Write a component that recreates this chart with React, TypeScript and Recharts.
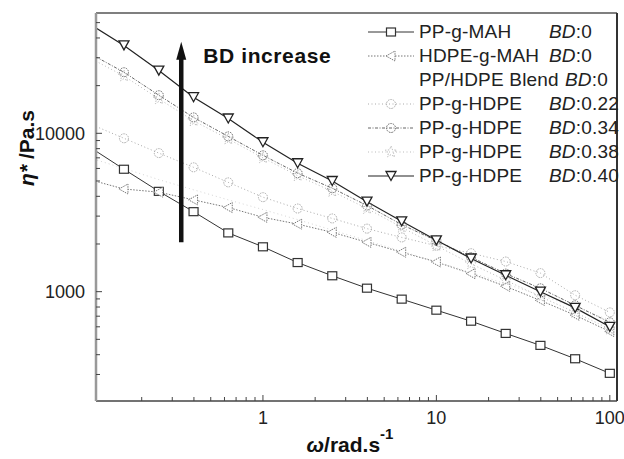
import React from 'react'
import {
  LineChart,
  Line,
  XAxis,
  YAxis,
  Legend,
  ReferenceLine,
  ReferenceDot,
} from 'recharts'

// angular frequency, rad/s
const freq = [0.1, 0.158, 0.251, 0.398, 0.631, 1, 1.585, 2.51, 3.98, 6.31, 10, 15.85, 25.1, 39.8, 63.1, 100]

// complex viscosity, Pa.s
const ppMah = [8200, 5930, 4300, 3200, 2350, 1920, 1527, 1260, 1052, 897, 764, 651, 545, 458, 377, 305]
const hdpeMah = [5100, 4450, 4250, 3800, 3400, 2950, 2670, 2370, 2050, 1775, 1540, 1300, 1080, 880, 710, 560]
const blend = [7000, 6000, 5100, 4400, 3800, 3300, 2850, 2450, 2100, 1800, 1550, 1320, 1120, 950, 800, 660]
const bd22 = [11500, 9300, 7500, 6100, 4900, 3950, 3350, 2900, 2500, 2200, 1950, 1750, 1550, 1310, 950, 740]
const bd34 = [32000, 24300, 17400, 12600, 9560, 7260, 5600, 4500, 3500, 2650, 2100, 1650, 1300, 1050, 820, 640]
const bd38 = [30000, 23000, 16500, 12000, 9200, 7000, 5400, 4300, 3350, 2550, 1950, 1500, 1180, 930, 740, 580]
const bd40 = [49000, 35900, 24900, 16900, 12400, 8780, 6470, 5000, 3700, 2780, 2110, 1620, 1270, 1000, 790, 600]

const xTicks = [0.2, 0.3, 0.4, 0.5, 0.6, 0.7, 0.8, 0.9, 1, 2, 3, 4, 5, 6, 7, 8, 9, 10, 20, 30, 40, 50, 60, 70, 80, 90, 100]
const yTicks = [300, 400, 500, 600, 700, 800, 900, 1000, 2000, 3000, 4000, 5000, 6000, 7000, 8000, 9000, 10000, 20000, 30000, 40000, 50000]

const X_DOMAIN = [0.109, 110]
const Y_DOMAIN = [204, 57500]

const data = freq.map((w, i) => ({
  w,
  ppMah: ppMah[i],
  hdpeMah: hdpeMah[i],
  blend: blend[i],
  bd22: bd22[i],
  bd34: bd34[i],
  bd38: bd38[i],
  bd40: bd40[i],
}))

const FONT = '"Liberation Sans", Arial, sans-serif'

type Kind = 'square' | 'left' | 'none' | 'circle' | 'star' | 'down'

function marker(kind: Kind, cx: number, cy: number, stroke: string, key?: string | number) {
  switch (kind) {
    case 'square':
      return <rect key={key} x={cx - 4.5} y={cy - 4} width={9} height={8} fill="#fff" stroke={stroke} strokeWidth={1.2} />
    case 'left':
      return <polygon key={key} points={`${cx - 5},${cy} ${cx + 4},${cy - 5} ${cx + 4},${cy + 5}`} fill="#fff" stroke={stroke} strokeWidth={1} strokeDasharray="1.5 1" />
    case 'circle':
      return <circle key={key} cx={cx} cy={cy} r={4.5} fill="none" stroke={stroke} strokeWidth={1} strokeDasharray="1.5 1" />
    case 'star': {
      const pts: string[] = []
      for (let k = 0; k < 10; k++) {
        const r = k % 2 === 0 ? 6 : 2.6
        const a = -Math.PI / 2 + (k * Math.PI) / 5
        pts.push(`${cx + r * Math.cos(a)},${cy + r * Math.sin(a)}`)
      }
      return <polygon key={key} points={pts.join(' ')} fill="none" stroke={stroke} strokeWidth={1} strokeDasharray="1.5 1.5" />
    }
    case 'down':
      return <polygon key={key} points={`${cx - 5},${cy - 4.5} ${cx + 5},${cy - 4.5} ${cx},${cy + 4.5}`} fill="#fff" stroke={stroke} strokeWidth={1.3} />
    default:
      return <g key={key} />
  }
}

const dotFor = (kind: Kind, stroke: string) => (p: any) => {
  if (p.cx == null || p.cy == null) return <g key={p.index} />
  return marker(kind, p.cx, p.cy, stroke, p.index)
}

const series = [
  { key: 'ppMah', name: 'PP-g-MAH', bd: '0', kind: 'square' as Kind, stroke: '#333', dash: undefined, w: 1 },
  { key: 'hdpeMah', name: 'HDPE-g-MAH', bd: '0', kind: 'left' as Kind, stroke: '#777', dash: '1.5 1.5', w: 1 },
  { key: 'blend', name: 'PP/HDPE Blend', bd: '0', kind: 'none' as Kind, stroke: '#d6d6d6', dash: '1 3', w: 1 },
  { key: 'bd22', name: 'PP-g-HDPE', bd: '0.22', kind: 'circle' as Kind, stroke: '#aaa', dash: '1 2.5', w: 1 },
  { key: 'bd34', name: 'PP-g-HDPE', bd: '0.34', kind: 'circle' as Kind, stroke: '#666', dash: '3 1.5 1 1.5', w: 1 },
  { key: 'bd38', name: 'PP-g-HDPE', bd: '0.38', kind: 'star' as Kind, stroke: '#bbb', dash: '1 2.5', w: 1 },
  { key: 'bd40', name: 'PP-g-HDPE', bd: '0.40', kind: 'down' as Kind, stroke: '#222', dash: undefined, w: 1.2 },
]

const XTick = (props: any) => {
  const { x, y, payload } = props
  const v = payload.value
  const major = v === 1 || v === 10 || v === 100
  return (
    <g>
      <line x1={x} x2={x} y1={y} y2={y - (major ? 6 : 4)} stroke="#444" strokeWidth={1} />
      {major && (
        <text x={x} y={y + 23} textAnchor="middle" fontSize={18} fill="#222" fontFamily={FONT}>
          {v}
        </text>
      )}
    </g>
  )
}

const YTick = (props: any) => {
  const { x, y, payload } = props
  const v = payload.value
  const major = v === 1000 || v === 10000
  return (
    <g>
      <line x1={x} x2={x + (major ? 6 : 4)} y1={y} y2={y} stroke="#444" strokeWidth={1} />
      {major && (
        <text x={x - 11} y={y + 6.5} textAnchor="end" fontSize={18} fill="#222" fontFamily={FONT}>
          {v}
        </text>
      )}
    </g>
  )
}

const renderLegend = () => (
  <div style={{ fontFamily: FONT, fontSize: 19, color: '#222', letterSpacing: 0.2 }}>
    {series.map((s) => (
      <div key={s.key} style={{ height: 24, display: 'flex', alignItems: 'center', whiteSpace: 'nowrap' }}>
        <svg width={46} height={20} style={{ marginRight: 5 }}>
          {s.kind !== 'none' && (
            <line x1={0} x2={46} y1={10} y2={10} stroke={s.stroke} strokeWidth={s.w} strokeDasharray={s.dash} />
          )}
          {marker(s.kind, 23, 10, s.stroke)}
        </svg>
        <span style={{ display: 'inline-block', minWidth: 130, marginRight: s.key === 'blend' ? 6 : 0 }}>{s.name}</span>
        <span>
          <i>BD</i>:{s.bd}
        </span>
      </div>
    ))}
  </div>
)

const ArrowHead = (p: any) => {
  const { cx, cy } = p
  return (
    <g>
      <polygon points={`${cx},${cy} ${cx - 5},${cy + 18} ${cx + 5},${cy + 18}`} fill="#111" />
      <text x={cx + 22} y={cy + 21} fontSize={21} fontWeight="bold" fill="#111" fontFamily={FONT} letterSpacing={0.6}>
        BD increase
      </text>
    </g>
  )
}

const YLabel = () => (
  <text
    x={0}
    y={0}
    transform="translate(34,148) rotate(-90)"
    textAnchor="middle"
    fontSize={21}
    fontWeight="bold"
    fill="#111"
    fontFamily={FONT}
  >
    <tspan fontStyle="italic">η*</tspan>
    <tspan> /Pa.s</tspan>
  </text>
)

const XLabel = () => (
  <text x={350} y={452} textAnchor="middle" fontSize={21} fontWeight="bold" fill="#111" fontFamily={FONT}>
    <tspan fontStyle="italic">ω</tspan>
    <tspan>/rad.s</tspan>
    <tspan dy={-13} fontSize={15}>-1</tspan>
  </text>
)

export default function App() {
  return (
    <div style={{ position: 'absolute', left: 0, top: 0, width: 624, height: 459, background: '#fff' }}>
      <LineChart width={624} height={459} data={data} margin={{ top: 13, right: 7, bottom: 0, left: 0 }}>
        <XAxis
          dataKey="w"
          type="number"
          scale="log"
          domain={X_DOMAIN}
          allowDataOverflow
          ticks={xTicks}
          interval={0}
          height={58}
          tickSize={0}
          tickMargin={0}
          tick={XTick}
          axisLine={{ stroke: '#444', strokeWidth: 1.5 }}
          label={<XLabel />}
        />
        <YAxis
          type="number"
          scale="log"
          domain={Y_DOMAIN}
          allowDataOverflow
          ticks={yTicks}
          interval={0}
          width={96}
          tickSize={0}
          tickMargin={0}
          tick={YTick}
          axisLine={{ stroke: '#999', strokeWidth: 2.5 }}
          label={<YLabel />}
        />
        {/* frame: top and right edges of the plot */}
        <ReferenceLine y={Y_DOMAIN[1]} stroke="#555" strokeWidth={1.5} />
        <ReferenceLine x={X_DOMAIN[1]} stroke="#333" strokeWidth={2} />
        {series.map((s) => (
          <Line
            key={s.key}
            dataKey={s.key}
            name={s.name}
            stroke={s.stroke}
            strokeWidth={s.w}
            strokeDasharray={s.dash}
            dot={dotFor(s.kind, s.stroke)}
            activeDot={false}
            isAnimationActive={false}
          />
        ))}
        <ReferenceLine
          segment={[
            { x: 0.338, y: 2055 },
            { x: 0.338, y: 30000 },
          ]}
          stroke="#111"
          strokeWidth={4.5}
        />
        <ReferenceDot x={0.338} y={37800} r={0} shape={ArrowHead} />
        <Legend
          layout="vertical"
          align="center"
          verticalAlign="middle"
          content={renderLegend}
          wrapperStyle={{ position: 'absolute', left: 368, top: 20, width: 'auto' }}
        />
      </LineChart>
    </div>
  )
}
